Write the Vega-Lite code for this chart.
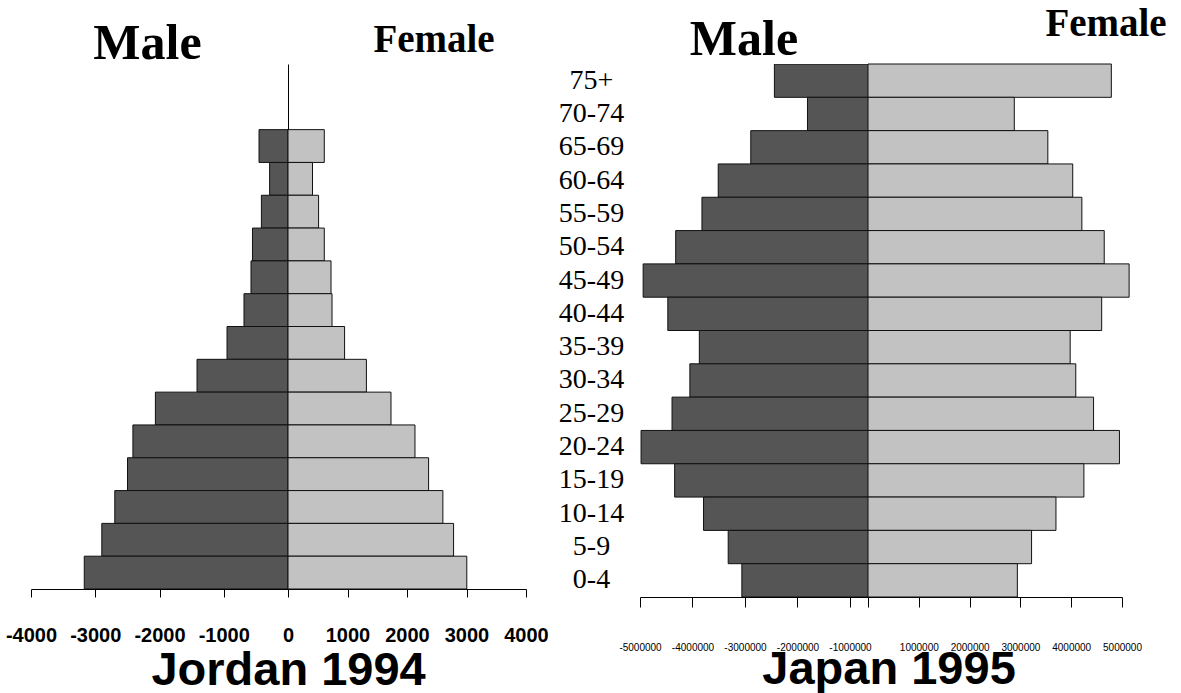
{
  "$schema": "https://vega.github.io/schema/vega-lite/v6.json",
  "background": "white",
  "padding": {"left": 5, "top": 4, "right": 0, "bottom": 0},
  "config": {
    "view": {"stroke": null},
    "axis": {"grid": false, "domainColor": "black", "tickColor": "black", "labelColor": "black", "title": null, "labelFlush": false, "labelOverlap": false}
  },
  "datasets": {
    "jordan": [
      {"age": "65-69", "sex": "Male", "pop": -451}, {"age": "65-69", "sex": "Female", "pop": 610},
      {"age": "60-64", "sex": "Male", "pop": -286}, {"age": "60-64", "sex": "Female", "pop": 412},
      {"age": "55-59", "sex": "Male", "pop": -414}, {"age": "55-59", "sex": "Female", "pop": 514},
      {"age": "50-54", "sex": "Male", "pop": -553}, {"age": "50-54", "sex": "Female", "pop": 610},
      {"age": "45-49", "sex": "Male", "pop": -576}, {"age": "45-49", "sex": "Female", "pop": 723},
      {"age": "40-44", "sex": "Male", "pop": -685}, {"age": "40-44", "sex": "Female", "pop": 740},
      {"age": "35-39", "sex": "Male", "pop": -949}, {"age": "35-39", "sex": "Female", "pop": 951},
      {"age": "30-34", "sex": "Male", "pop": -1416}, {"age": "30-34", "sex": "Female", "pop": 1318},
      {"age": "25-29", "sex": "Male", "pop": -2064}, {"age": "25-29", "sex": "Female", "pop": 1731},
      {"age": "20-24", "sex": "Male", "pop": -2414}, {"age": "20-24", "sex": "Female", "pop": 2134},
      {"age": "15-19", "sex": "Male", "pop": -2498}, {"age": "15-19", "sex": "Female", "pop": 2363},
      {"age": "10-14", "sex": "Male", "pop": -2696}, {"age": "10-14", "sex": "Female", "pop": 2603},
      {"age": "5-9", "sex": "Male", "pop": -2898}, {"age": "5-9", "sex": "Female", "pop": 2783},
      {"age": "0-4", "sex": "Male", "pop": -3171}, {"age": "0-4", "sex": "Female", "pop": 3005}
    ],
    "japan": [
      {"age": "75+", "sex": "Male", "pop": -2440000}, {"age": "75+", "sex": "Female", "pop": 4790000},
      {"age": "70-74", "sex": "Male", "pop": -1810000}, {"age": "70-74", "sex": "Female", "pop": 2880000},
      {"age": "65-69", "sex": "Male", "pop": -2890000}, {"age": "65-69", "sex": "Female", "pop": 3540000},
      {"age": "60-64", "sex": "Male", "pop": -3510000}, {"age": "60-64", "sex": "Female", "pop": 4030000},
      {"age": "55-59", "sex": "Male", "pop": -3820000}, {"age": "55-59", "sex": "Female", "pop": 4210000},
      {"age": "50-54", "sex": "Male", "pop": -4320000}, {"age": "50-54", "sex": "Female", "pop": 4650000},
      {"age": "45-49", "sex": "Male", "pop": -4940000}, {"age": "45-49", "sex": "Female", "pop": 5140000},
      {"age": "40-44", "sex": "Male", "pop": -4470000}, {"age": "40-44", "sex": "Female", "pop": 4600000},
      {"age": "35-39", "sex": "Male", "pop": -3870000}, {"age": "35-39", "sex": "Female", "pop": 3980000},
      {"age": "30-34", "sex": "Male", "pop": -4050000}, {"age": "30-34", "sex": "Female", "pop": 4090000},
      {"age": "25-29", "sex": "Male", "pop": -4390000}, {"age": "25-29", "sex": "Female", "pop": 4440000},
      {"age": "20-24", "sex": "Male", "pop": -4980000}, {"age": "20-24", "sex": "Female", "pop": 4950000},
      {"age": "15-19", "sex": "Male", "pop": -4340000}, {"age": "15-19", "sex": "Female", "pop": 4250000},
      {"age": "10-14", "sex": "Male", "pop": -3790000}, {"age": "10-14", "sex": "Female", "pop": 3700000},
      {"age": "5-9", "sex": "Male", "pop": -3320000}, {"age": "5-9", "sex": "Female", "pop": 3220000},
      {"age": "0-4", "sex": "Male", "pop": -3060000}, {"age": "0-4", "sex": "Female", "pop": 2940000}
    ]
  },
  "spacing": 9,
  "hconcat": [
    {
      "title": {"text": "Jordan 1994", "orient": "bottom", "frame": "bounds", "font": "Liberation Sans", "fontSize": 47, "fontWeight": "bold", "color": "black", "offset": 3, "dx": 146},
      "bounds": "flush",
      "spacing": 0,
      "hconcat": [
        {
          "title": {"text": "Male", "font": "Liberation Serif", "fontSize": 50, "fontWeight": "bold", "color": "black", "offset": -5, "dx": -12},
          "data": {"name": "jordan"},
          "transform": [{"filter": "datum.sex === 'Male'"}],
          "width": 257, "height": 525,
          "mark": {"type": "bar", "fill": "#555555", "stroke": "#111111", "strokeWidth": 1, "clip": true},
          "encoding": {
            "y": {"field": "age", "type": "nominal", "scale": {"domain": ["75+", "70-74", "65-69", "60-64", "55-59", "50-54", "45-49", "40-44", "35-39", "30-34", "25-29", "20-24", "15-19", "10-14", "5-9", "0-4"], "paddingInner": 0, "paddingOuter": 0}, "axis": null},
            "x": {"field": "pop", "type": "quantitative", "scale": {"domain": [-4000, 0], "nice": false},
              "axis": {"values": [-4000, -3000, -2000, -1000, 0], "labelExpr": "toString(datum.value)", "tickSize": 8, "labelPadding": 28, "labelFont": "Liberation Sans", "labelFontSize": 20, "labelFontWeight": "bold"}},
            "x2": {"datum": 0}
          }
        },
        {
          "title": {"text": "Female", "font": "Liberation Serif", "fontSize": 39, "fontWeight": "bold", "color": "black", "offset": 4, "dx": 27},
          "data": {"name": "jordan"},
          "transform": [{"filter": "datum.sex === 'Female'"}],
          "width": 238, "height": 525,
          "mark": {"type": "bar", "fill": "#c2c2c2", "stroke": "#111111", "strokeWidth": 1},
          "encoding": {
            "y": {"field": "age", "type": "nominal", "scale": {"domain": ["75+", "70-74", "65-69", "60-64", "55-59", "50-54", "45-49", "40-44", "35-39", "30-34", "25-29", "20-24", "15-19", "10-14", "5-9", "0-4"], "paddingInner": 0, "paddingOuter": 0},
              "axis": {"orient": "left", "labels": false, "ticks": false, "domain": true, "domainColor": "black"}},
            "x": {"field": "pop", "type": "quantitative", "scale": {"domain": [0, 4000], "nice": false},
              "axis": {"values": [1000, 2000, 3000, 4000], "labelExpr": "toString(datum.value)", "tickSize": 8, "labelPadding": 28, "labelFont": "Liberation Sans", "labelFontSize": 20, "labelFontWeight": "bold"}},
            "x2": {"datum": 0}
          }
        }
      ]
    },
    {
      "title": {"text": "Japan 1995", "orient": "bottom", "frame": "bounds", "font": "Liberation Sans", "fontSize": 47, "fontWeight": "bold", "color": "black", "offset": -5, "dx": 204},
      "bounds": "flush",
      "spacing": 0,
      "hconcat": [
        {
          "title": {"text": "Male", "font": "Liberation Serif", "fontSize": 50, "fontWeight": "bold", "color": "black", "offset": -1, "dx": -10},
          "data": {"name": "japan"},
          "transform": [{"filter": "datum.sex === 'Male'"}],
          "width": 228, "height": 533,
          "mark": {"type": "bar", "fill": "#555555", "stroke": "#111111", "strokeWidth": 1, "clip": true},
          "encoding": {
            "y": {"field": "age", "type": "nominal", "scale": {"domain": ["75+", "70-74", "65-69", "60-64", "55-59", "50-54", "45-49", "40-44", "35-39", "30-34", "25-29", "20-24", "15-19", "10-14", "5-9", "0-4"], "paddingInner": 0, "paddingOuter": 0},
              "axis": {"orient": "left", "domain": false, "ticks": false, "tickSize": 0, "labelPadding": 49, "labelAlign": "center", "labelFont": "Liberation Serif", "labelFontSize": 28}},
            "x": {"field": "pop", "type": "quantitative", "scale": {"domain": [-5000000, -657000], "nice": false},
              "axis": {"values": [-5000000, -4000000, -3000000, -2000000, -1000000], "labelExpr": "toString(datum.value)", "tickSize": 10, "labelPadding": 35, "labelFont": "Liberation Sans", "labelFontSize": 10}},
            "x2": {"datum": 0}
          }
        },
        {
          "title": {"text": "Female", "font": "Liberation Serif", "fontSize": 39, "fontWeight": "bold", "color": "black", "offset": 20, "dx": 111},
          "data": {"name": "japan"},
          "transform": [{"filter": "datum.sex === 'Female'"}],
          "width": 254, "height": 533,
          "mark": {"type": "bar", "fill": "#c2c2c2", "stroke": "#111111", "strokeWidth": 1},
          "encoding": {
            "y": {"field": "age", "type": "nominal", "scale": {"domain": ["75+", "70-74", "65-69", "60-64", "55-59", "50-54", "45-49", "40-44", "35-39", "30-34", "25-29", "20-24", "15-19", "10-14", "5-9", "0-4"], "paddingInner": 0, "paddingOuter": 0},
              "axis": {"orient": "left", "labels": false, "ticks": false, "domain": true, "domainColor": "black"}},
            "x": {"field": "pop", "type": "quantitative", "scale": {"domain": [0, 5000000], "nice": false},
              "axis": {"values": [0, 1000000, 2000000, 3000000, 4000000, 5000000], "labelExpr": "datum.value === 0 ? '' : toString(datum.value)", "tickSize": 10, "labelPadding": 35, "labelFont": "Liberation Sans", "labelFontSize": 10}},
            "x2": {"datum": 0}
          }
        }
      ]
    }
  ]
}
